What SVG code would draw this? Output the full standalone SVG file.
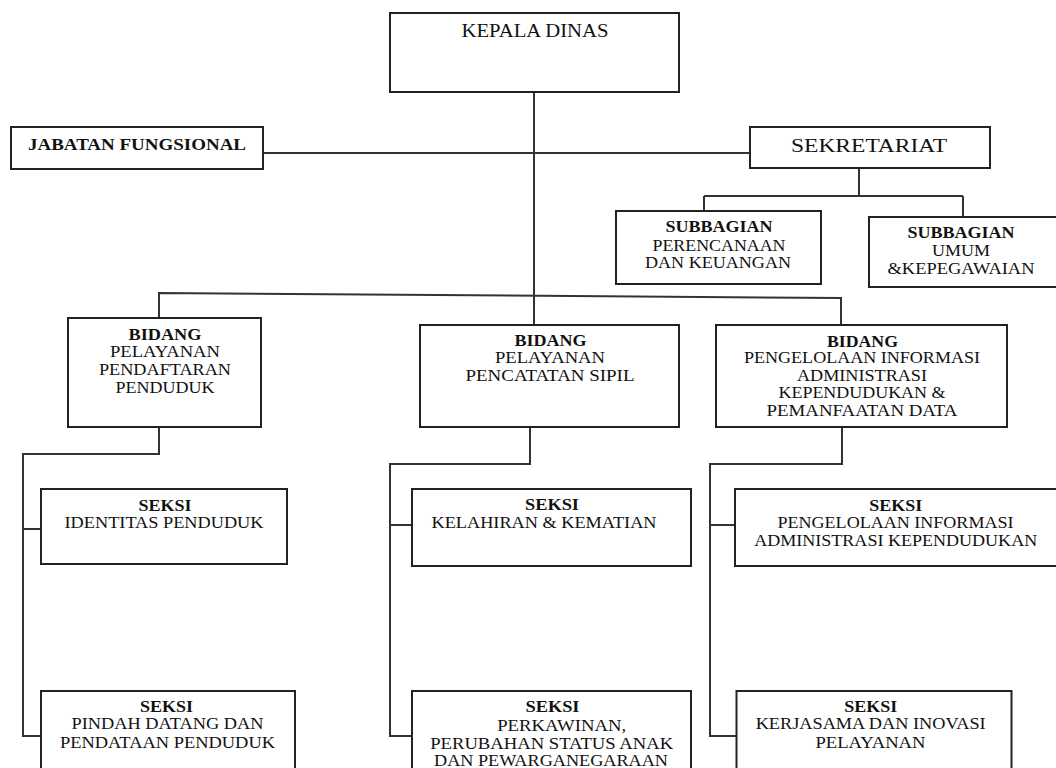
<svg xmlns="http://www.w3.org/2000/svg" width="1056" height="768" viewBox="0 0 1056 768">
<style>
rect{fill:#fff;stroke:#222;stroke-width:2}
.c path{fill:none;stroke:#333;stroke-width:2}
text{font-family:"Liberation Serif","Times New Roman",serif;font-size:17px;fill:#111;text-anchor:middle}
.b{font-weight:bold;font-size:16px}
</style>
<rect x="0" y="0" width="1056" height="768" style="stroke:none"/>
<g class="c" id="connectors">
<path d="M534,92 V325"/>
<path d="M263,153 H750"/>
<path d="M859,168 V196 M704,196 H963 M704,196 V211 M963,196 V217"/>
<path d="M159,318 V293 L841,298 V325"/>
<path d="M159,427 V454 H23 V736 H41 M23,529 H41"/>
<path d="M530,427 V464 H390 V736 H412 M390,525 H412"/>
<path d="M842,427 V464 H710 V736 H736 M710,525 H735"/>
</g>
<g id="kepala"><rect x="390" y="13" width="289" height="79"/><text x="535" y="37" style="font-size:18px" textLength="147" lengthAdjust="spacingAndGlyphs">KEPALA DINAS</text></g>
<g id="jabatan"><rect x="11" y="127" width="252" height="42"/><text x="137" y="150" class="b" style="font-size:16px" textLength="218" lengthAdjust="spacingAndGlyphs">JABATAN  FUNGSIONAL</text></g>
<g id="sekretariat"><rect x="750" y="127" width="240" height="41"/><text x="869" y="152" style="font-size:19px" textLength="156" lengthAdjust="spacingAndGlyphs">SEKRETARIAT</text></g>
<g id="sub-perencanaan"><rect x="616" y="211" width="205" height="73"/>
<text x="719" y="232" class="b" textLength="107" lengthAdjust="spacingAndGlyphs">SUBBAGIAN</text>
<text x="719" y="251" textLength="133" lengthAdjust="spacingAndGlyphs">PERENCANAAN</text>
<text x="718" y="268" textLength="146" lengthAdjust="spacingAndGlyphs">DAN KEUANGAN</text></g>
<g id="sub-umum"><rect x="869" y="217" width="200" height="70"/>
<text x="961" y="238" class="b" textLength="107" lengthAdjust="spacingAndGlyphs">SUBBAGIAN</text>
<text x="961" y="255.5" textLength="58" lengthAdjust="spacingAndGlyphs">UMUM</text>
<text x="961" y="274" textLength="147" lengthAdjust="spacingAndGlyphs">&amp;KEPEGAWAIAN</text></g>
<g id="bidang-pendaftaran"><rect x="68" y="318" width="193" height="109"/>
<text x="165" y="340" class="b" textLength="73" lengthAdjust="spacingAndGlyphs">BIDANG</text>
<text x="165" y="357" textLength="110" lengthAdjust="spacingAndGlyphs">PELAYANAN</text>
<text x="165" y="375" textLength="132" lengthAdjust="spacingAndGlyphs">PENDAFTARAN</text>
<text x="165" y="392.5" textLength="99" lengthAdjust="spacingAndGlyphs">PENDUDUK</text></g>
<g id="bidang-capil"><rect x="420" y="325" width="259" height="102"/>
<text x="550.5" y="346" class="b" textLength="72" lengthAdjust="spacingAndGlyphs">BIDANG</text>
<text x="550" y="363.3" textLength="110" lengthAdjust="spacingAndGlyphs">PELAYANAN</text>
<text x="550" y="380.7" textLength="169" lengthAdjust="spacingAndGlyphs">PENCATATAN SIPIL</text></g>
<g id="bidang-pia"><rect x="716" y="325" width="291" height="102"/>
<text x="862.5" y="346.7" class="b" textLength="71" lengthAdjust="spacingAndGlyphs">BIDANG</text>
<text x="862" y="363.3" textLength="236" lengthAdjust="spacingAndGlyphs">PENGELOLAAN INFORMASI</text>
<text x="862" y="380.7" textLength="130" lengthAdjust="spacingAndGlyphs">ADMINISTRASI</text>
<text x="862" y="398.3" textLength="167" lengthAdjust="spacingAndGlyphs">KEPENDUDUKAN &amp;</text>
<text x="862" y="416" textLength="191" lengthAdjust="spacingAndGlyphs">PEMANFAATAN DATA</text></g>
<g id="seksi-identitas"><rect x="41" y="489" width="246" height="75"/>
<text x="165" y="510.7" class="b" textLength="53" lengthAdjust="spacingAndGlyphs">SEKSI</text>
<text x="164" y="528.3" textLength="199" lengthAdjust="spacingAndGlyphs">IDENTITAS PENDUDUK</text></g>
<g id="seksi-pindah"><rect x="41" y="691" width="254" height="90"/>
<text x="166.5" y="711.7" class="b" textLength="53" lengthAdjust="spacingAndGlyphs">SEKSI</text>
<text x="167.5" y="729.3" textLength="192" lengthAdjust="spacingAndGlyphs">PINDAH DATANG DAN</text>
<text x="167.5" y="748.3" textLength="215" lengthAdjust="spacingAndGlyphs">PENDATAAN PENDUDUK</text></g>
<g id="seksi-kelahiran"><rect x="412" y="489" width="279" height="77"/>
<text x="552" y="510" class="b" textLength="54" lengthAdjust="spacingAndGlyphs">SEKSI</text>
<text x="544" y="528.3" textLength="225" lengthAdjust="spacingAndGlyphs">KELAHIRAN &amp; KEMATIAN</text></g>
<g id="seksi-perkawinan"><rect x="412" y="691" width="279" height="90"/>
<text x="552.5" y="712" class="b" textLength="54" lengthAdjust="spacingAndGlyphs">SEKSI</text>
<text x="561.7" y="730.7" textLength="129" lengthAdjust="spacingAndGlyphs">PERKAWINAN,</text>
<text x="551.7" y="749" textLength="243" lengthAdjust="spacingAndGlyphs">PERUBAHAN STATUS ANAK</text>
<text x="551" y="766" textLength="234" lengthAdjust="spacingAndGlyphs">DAN PEWARGANEGARAAN</text></g>
<g id="seksi-pengelolaan"><rect x="735" y="489" width="330" height="77"/>
<text x="895.7" y="510.7" class="b" textLength="53" lengthAdjust="spacingAndGlyphs">SEKSI</text>
<text x="895.5" y="528.3" textLength="236" lengthAdjust="spacingAndGlyphs">PENGELOLAAN INFORMASI</text>
<text x="895.7" y="546" textLength="283" lengthAdjust="spacingAndGlyphs">ADMINISTRASI KEPENDUDUKAN</text></g>
<g id="seksi-kerjasama"><rect x="736.5" y="691" width="275" height="90"/>
<text x="870.7" y="711.7" class="b" textLength="53" lengthAdjust="spacingAndGlyphs">SEKSI</text>
<text x="870.7" y="729.3" textLength="230" lengthAdjust="spacingAndGlyphs">KERJASAMA DAN INOVASI</text>
<text x="870.5" y="748.3" textLength="110" lengthAdjust="spacingAndGlyphs">PELAYANAN</text></g>
</svg>
